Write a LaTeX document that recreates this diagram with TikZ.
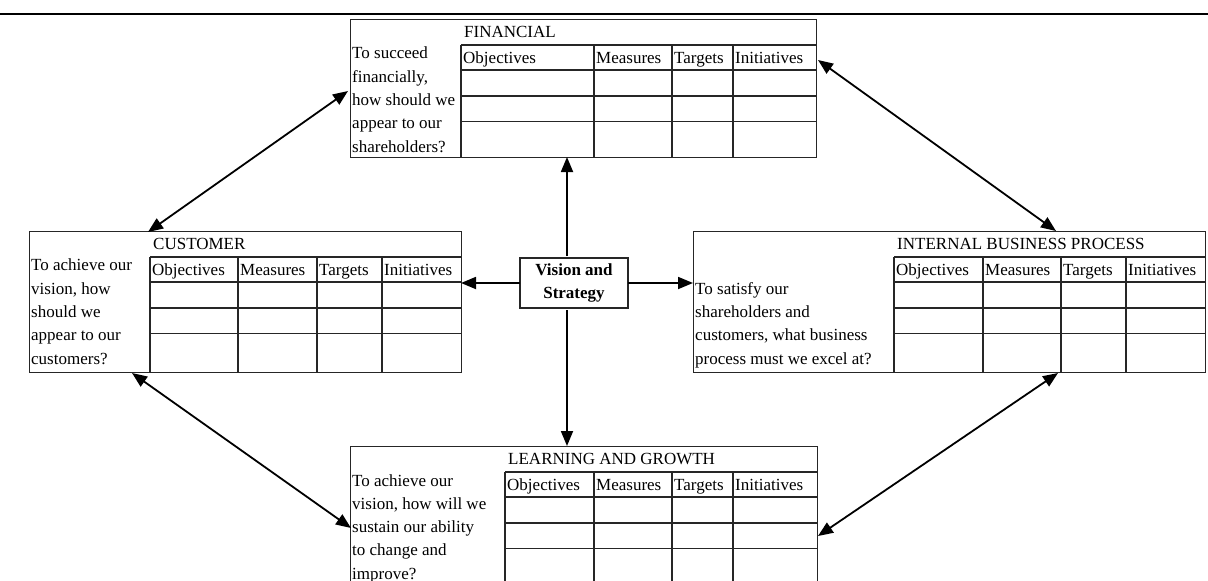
\documentclass[tikz,border=0pt]{standalone}
\usepackage{fontspec}
\setmainfont{Liberation Serif}
\usetikzlibrary{arrows.meta}
\tikzset{
  boxline/.style={line width=1.2pt, draw=black!85},
  arr/.style={line width=1.8pt, -{Triangle[length=15pt,width=12pt]}},
  darr/.style={line width=1.8pt, {Triangle[length=15pt,width=12pt]}-{Triangle[length=15pt,width=12pt]}},
  frame/.style={draw=black!85, line width=1.2pt, inner sep=0pt, anchor=north west},
  lbl/.style={anchor=base west, inner sep=0pt, font=\fontsize{17}{23}\selectfont},
  ques/.style={anchor=north west, inner sep=0pt, align=left, font=\fontsize{17}{23.3}\selectfont},
  vis/.style={draw=black!85, line width=1.2pt, minimum width=108pt, minimum height=50pt, align=center, inner sep=0pt, font=\fontsize{17}{23}\selectfont\bfseries}
}
% #1 L, #2 Q, #3 R, #4 T, #5 B, #6 c1, #7 c2, #8 c3, #9 title
\newcommand{\bscgrid}[9]{%
  \draw[boxline] ({#2},{#4+26}) -- ({#3},{#4+26});
  \draw[boxline] ({#2},{#4+51}) -- ({#3},{#4+51});
  \draw[boxline] ({#2},{#4+77}) -- ({#3},{#4+77});
  \draw[boxline] ({#2},{#4+102.5}) -- ({#3},{#4+102.5});
  \draw[boxline] ({#2},{#4+26}) -- ({#2},{#5});
  \draw[boxline] ({#6},{#4+26}) -- ({#6},{#5});
  \draw[boxline] ({#7},{#4+26}) -- ({#7},{#5});
  \draw[boxline] ({#8},{#4+26}) -- ({#8},{#5});
  \node[lbl] at ({#2+3},{#4+18}) {#9};
  \node[lbl] at ({#2+2},{#4+44}) {Objectives};
  \node[lbl] at ({#6+2},{#4+44}) {Measures};
  \node[lbl] at ({#7+2},{#4+44}) {Targets};
  \node[lbl] at ({#8+2},{#4+44}) {Initiatives};
}
\begin{document}
\begin{tikzpicture}[x=1pt,y=-1pt]
\useasboundingbox (0,0) rectangle (1208,581);
\clip (0,0) rectangle (1208,581);
% top rule
\draw[line width=2.8pt] (0,14) coordinate (ruleL) -- (1208,14) coordinate (ruleR);

% boxes
\node[frame, minimum width=466pt, minimum height=138pt] (fin) at (350,19) {};
\node[frame, minimum width=432pt, minimum height=141pt] (cus) at (29,231) {};
\node[frame, minimum width=512pt, minimum height=141pt] (ibp) at (693,231) {};
\node[frame, minimum width=467pt, minimum height=170pt] (lag) at (350,446) {};

\bscgrid{350}{461}{816}{19}{157}{594}{672}{733}{FINANCIAL}
\bscgrid{29}{150}{461}{231}{372}{238}{317}{382}{CUSTOMER}
\bscgrid{693}{894}{1205}{231}{372}{983}{1061}{1126}{INTERNAL BUSINESS PROCESS}
\bscgrid{350}{505}{817}{446}{616}{594}{672}{733}{LEARNING AND GROWTH}

% questions
\node[ques] (qfin) at (352,47) {To succeed\\financially,\\how should we\\appear to our\\shareholders?};
\node[ques] (qcus) at (31,259) {To achieve our\\vision, how\\should we\\appear to our\\customers?};
\node[ques] (qibp) at (695,282) {To satisfy our\\shareholders and\\customers, what business\\process must we excel at?};
\node[ques] (qlag) at (352,474) {To achieve our\\vision, how will we\\sustain our ability\\to change and\\improve?};

% vision
\node[vis] (vs) at (574,283) {Vision and\\Strategy};

% arrow end points
\coordinate (vsU) at (567,256);
\coordinate (vsD) at (567,310);
\coordinate (vsL) at (520,283);
\coordinate (vsR) at (628,283);
\coordinate (finB) at (567,157);
\coordinate (lagT) at (567,446);
\coordinate (cusR) at (461,283);
\coordinate (ibpL) at (693,283);

\draw[arr] (vsU) -- (finB);
\draw[arr] (vsD) -- (lagT);
\draw[arr] (vsL) -- (cusR);
\draw[arr] (vsR) -- (ibpL);

\coordinate (finL) at (348,91);
\coordinate (cusT) at (148,232);
\coordinate (finR) at (818,60);
\coordinate (ibpT) at (1056,231);
\coordinate (cusB) at (132,373);
\coordinate (lagL) at (351,528);
\coordinate (ibpB) at (1058,373);
\coordinate (lagR) at (818,536);

\draw[darr] (cusT) -- (finL);
\draw[darr] (finR) -- (ibpT);
\draw[darr] (cusB) -- (lagL);
\draw[darr] (ibpB) -- (lagR);
\end{tikzpicture}
\end{document}
